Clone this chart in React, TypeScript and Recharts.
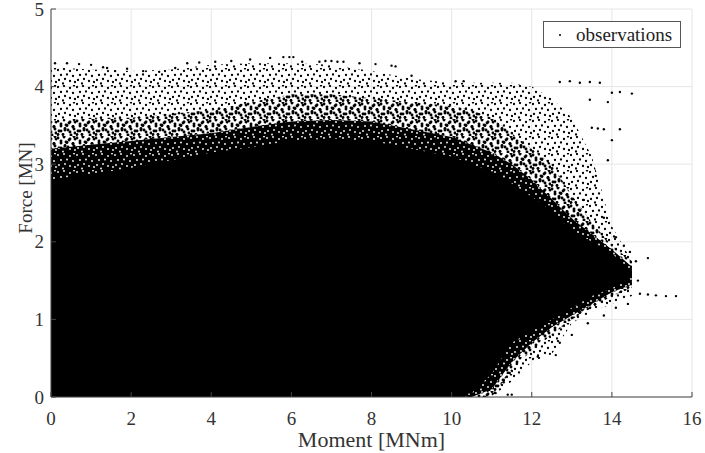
import { ComposedChart, Area, Scatter, XAxis, YAxis, CartesianGrid, Legend } from 'recharts';

const moments = [0, 1, 2, 3, 4, 5, 6, 7, 8, 9, 10, 10.5, 11, 11.5, 12, 12.5, 13, 13.5, 14, 14.5];

// solid black core
const coreLow = [0, 0, 0, 0, 0, 0, 0, 0, 0, 0, 0, 0.05, 0.3, 0.7, 0.85, 1.0, 1.15, 1.3, 1.4, 1.55];
const coreHigh = [2.8, 2.87, 2.95, 3.05, 3.15, 3.22, 3.3, 3.33, 3.3, 3.2, 3.1, 3.0, 2.9, 2.75, 2.58, 2.4, 2.15, 2.0, 1.85, 1.62];

// nearly black band with a few gaps
const denseLow = [0, 0, 0, 0, 0, 0, 0, 0, 0, 0, 0, 0, 0.1, 0.45, 0.7, 0.9, 1.05, 1.2, 1.35, 1.45];
const denseHigh = [3.2, 3.25, 3.3, 3.35, 3.4, 3.48, 3.55, 3.57, 3.55, 3.45, 3.35, 3.25, 3.15, 3.0, 2.8, 2.55, 2.3, 2.1, 1.9, 1.68];

// medium density band
const midLow = [0, 0, 0, 0, 0, 0, 0, 0, 0, 0, 0, 0, 0, 0.35, 0.6, 0.8, 1.0, 1.15, 1.3, 1.4];
const midHigh = [3.55, 3.6, 3.6, 3.65, 3.7, 3.8, 3.9, 3.9, 3.85, 3.8, 3.75, 3.7, 3.6, 3.4, 3.2, 3.0, 2.6, 2.25, 1.95, 1.75];

// sparse outer fringe
const sparseLow = [0, 0, 0, 0, 0, 0, 0, 0, 0, 0, 0, 0, 0, 0.2, 0.45, 0.55, 0.95, 1.1, 1.2, 1.3];
const sparseHigh = [4.25, 4.22, 4.2, 4.22, 4.28, 4.3, 4.3, 4.28, 4.2, 4.1, 4.05, 4.05, 4.05, 4.05, 4.0, 3.85, 3.6, 3.1, 2.2, 1.75];

// isolated observations on the edge of the cloud
const outlierX = [
  0.1, 0.4, 0.7, 1.0, 1.3, 1.4, 1.6, 1.9, 2.3, 2.7, 3.1, 3.4, 3.7, 4.1, 4.5, 4.97, 5.47, 5.8, 5.95, 6.05,
  6.27, 6.7, 6.85, 7.0, 7.15, 7.3, 7.7, 8.1, 8.5, 8.6, 9.0, 10.1, 10.3, 12.7, 12.95, 13.2, 13.45, 13.7,
  14.0, 14.2, 14.5, 13.45, 13.9, 13.5, 13.65, 13.8, 14.2, 14.0, 13.9, 13.6, 13.3, 13.8, 14.1, 14.45, 14.9,
  14.7, 14.9, 15.1, 15.35, 15.6, 14.6, 14.3, 14.65, 14.4, 14.1, 13.8, 13.4, 13.0, 12.7,
  12.6, 12.15, 11.45, 11.3, 11.4, 11.5, 11.1, 10.9,
];
const outlierY = [
  4.3, 4.3, 4.29, 4.28, 4.25, 4.24, 4.2, 4.23, 4.2, 4.19, 4.24, 4.3, 4.31, 4.32, 4.33, 4.35, 4.37, 4.38, 4.38, 4.38,
  4.32, 4.32, 4.33, 4.33, 4.32, 4.32, 4.3, 4.29, 4.27, 4.26, 4.14, 4.07, 4.07, 4.06, 4.07, 4.05, 4.06, 4.05,
  3.92, 3.93, 3.91, 3.83, 3.8, 3.47, 3.46, 3.45, 3.45, 3.31, 3.05, 2.85, 2.54, 2.31, 2.06, 1.87, 1.79,
  1.33, 1.32, 1.31, 1.3, 1.3, 1.75, 1.95, 1.5, 1.2, 1.15, 1.05, 0.95, 0.8, 0.7,
  0.54, 0.52, 0.31, 0.19, 0.03, 0.03, 0.05, 0.08,
];

const xTicks = [0, 2, 4, 6, 8, 10, 12, 14, 16];
const yTicks = [0, 1, 2, 3, 4, 5];

const FONT = '"Liberation Serif", "Times New Roman", serif';
const TEXT = '#333';
const AXIS = '#444';

// dot layout inside one pattern tile (pure styling, not data)
const TILE_W = 19;
const TILE_H = 17;
const spots = [
  [1, 2], [7, 1], [13, 3], [17, 0.5], [4, 7], [10, 6.5], [16, 8], [2, 12], [8, 11], [13, 13], [18, 14], [6, 15.5],
];
const midSpots = [...spots, ...spots.map(([a, b]) => [(a + 10) % TILE_W, (b + 9) % TILE_H])];

const bands = moments.map((x, i) => ({
  x,
  sparse: [sparseLow[i], sparseHigh[i]],
  mid: [midLow[i], midHigh[i]],
  dense: [denseLow[i], denseHigh[i]],
  core: [coreLow[i], coreHigh[i]],
}));

const outliers = outlierX.map((x, i) => ({ x, y: outlierY[i] }));

// ══════════════════════════════════════════════════════════════════
// TICKS (MATLAB style: marks point inward, on all four sides)
// ══════════════════════════════════════════════════════════════════

function BottomTick({ x, y, payload }: any) {
  return (
    <g>
      <line x1={x} y1={y} x2={x} y2={y - 5} stroke={AXIS} />
      <text x={x} y={y + 21} dy="0.35em" textAnchor="middle" fontSize={19} fontFamily={FONT} fill={TEXT}>
        {payload.value}
      </text>
    </g>
  );
}

function TopTick({ x, y }: any) {
  return <line x1={x} y1={y} x2={x} y2={y + 5} stroke={AXIS} />;
}

function LeftTick({ x, y, payload }: any) {
  return (
    <g>
      <line x1={x} y1={y} x2={x + 5} y2={y} stroke={AXIS} />
      <text x={x - 7} y={y} dy="0.35em" textAnchor="end" fontSize={19} fontFamily={FONT} fill={TEXT}>
        {payload.value}
      </text>
    </g>
  );
}

function RightTick({ x, y }: any) {
  return <line x1={x} y1={y} x2={x - 5} y2={y} stroke={AXIS} />;
}

function Dot({ cx, cy }: any) {
  return <circle cx={cx} cy={cy} r={1.2} fill="#000" />;
}

function LegendBox() {
  return (
    <div
      style={{
        width: 136,
        height: 25,
        border: '1px solid #555',
        background: '#fff',
        position: 'relative',
        fontFamily: FONT,
        fontSize: 19,
        color: '#222',
      }}
    >
      <span style={{ position: 'absolute', left: 15, top: 12, width: 2, height: 2, background: '#000', borderRadius: 1 }} />
      <span style={{ position: 'absolute', left: 32, top: 0, lineHeight: '25px' }}>observations</span>
    </div>
  );
}

// ══════════════════════════════════════════════════════════════════
// MAIN COMPONENT
// ══════════════════════════════════════════════════════════════════

export default function App() {
  return (
    <div style={{ position: 'absolute', left: 0, top: 0, width: 705, height: 453, background: '#fff' }}>
      <ComposedChart width={705} height={453} data={bands} margin={{ top: 9, right: 13, left: 0, bottom: 0 }}>
        <defs>
          <pattern id="sparseDots" width={TILE_W} height={TILE_H} patternUnits="userSpaceOnUse">
            {spots.map(([cx, cy], i) => (
              <circle key={i} cx={cx} cy={cy} r={1.15} fill="#000" />
            ))}
          </pattern>
          <pattern id="midDots" width={TILE_W} height={TILE_H} patternUnits="userSpaceOnUse">
            {midSpots.map(([cx, cy], i) => (
              <circle key={i} cx={cx} cy={cy} r={1.45} fill="#000" />
            ))}
          </pattern>
          <pattern id="denseDots" width={TILE_W} height={TILE_H} patternUnits="userSpaceOnUse">
            <rect width={TILE_W} height={TILE_H} fill="#000" />
            {spots.map(([cx, cy], i) => (
              <circle key={i} cx={cx} cy={cy} r={0.9} fill="#fff" />
            ))}
          </pattern>
        </defs>

        <CartesianGrid stroke="#e6e6e6" />

        <XAxis
          dataKey="x"
          type="number"
          domain={[0, 16]}
          ticks={xTicks}
          height={56}
          tickSize={0}
          tickMargin={0}
          tick={<BottomTick />}
          stroke={AXIS}
          label={{ value: 'Moment [MNm]', position: 'insideBottom', offset: 6, fontSize: 22, fontFamily: FONT, fill: TEXT }}
        />
        <XAxis
          xAxisId="top"
          orientation="top"
          type="number"
          domain={[0, 16]}
          ticks={xTicks}
          height={0}
          tickSize={0}
          tickMargin={0}
          tick={<TopTick />}
          stroke={AXIS}
        />
        <YAxis
          type="number"
          domain={[0, 5]}
          ticks={yTicks}
          width={51}
          tickSize={0}
          tickMargin={0}
          tick={<LeftTick />}
          stroke={AXIS}
          label={{
            content: ({ viewBox }: any) => (
              <text
                x={viewBox.x + 25}
                y={188}
                transform={`rotate(-90, ${viewBox.x + 25}, 188)`}
                dy="0.35em"
                textAnchor="middle"
                fontSize={19}
                fontFamily={FONT}
                fill={TEXT}
              >
                Force [MN]
              </text>
            ),
          }}
        />
        <YAxis
          yAxisId="right"
          orientation="right"
          type="number"
          domain={[0, 5]}
          ticks={yTicks}
          width={0}
          tickSize={0}
          tickMargin={0}
          tick={<RightTick />}
          stroke={AXIS}
        />

        <Area dataKey="sparse" type="linear" stroke="none" fill="url(#sparseDots)" fillOpacity={1} isAnimationActive={false} legendType="none" />
        <Area dataKey="mid" type="linear" stroke="none" fill="url(#midDots)" fillOpacity={1} isAnimationActive={false} legendType="none" />
        <Area dataKey="dense" type="linear" stroke="none" fill="url(#denseDots)" fillOpacity={1} isAnimationActive={false} legendType="none" />
        <Area dataKey="core" type="linear" stroke="none" fill="#000" fillOpacity={1} isAnimationActive={false} legendType="none" />
        <Scatter data={outliers} dataKey="y" shape={<Dot />} isAnimationActive={false} name="observations" />

        <Legend
          layout="vertical"
          align="center"
          verticalAlign="middle"
          content={<LegendBox />}
          wrapperStyle={{ left: 543, top: 21, width: 138, height: 27 }}
        />
      </ComposedChart>
    </div>
  );
}
